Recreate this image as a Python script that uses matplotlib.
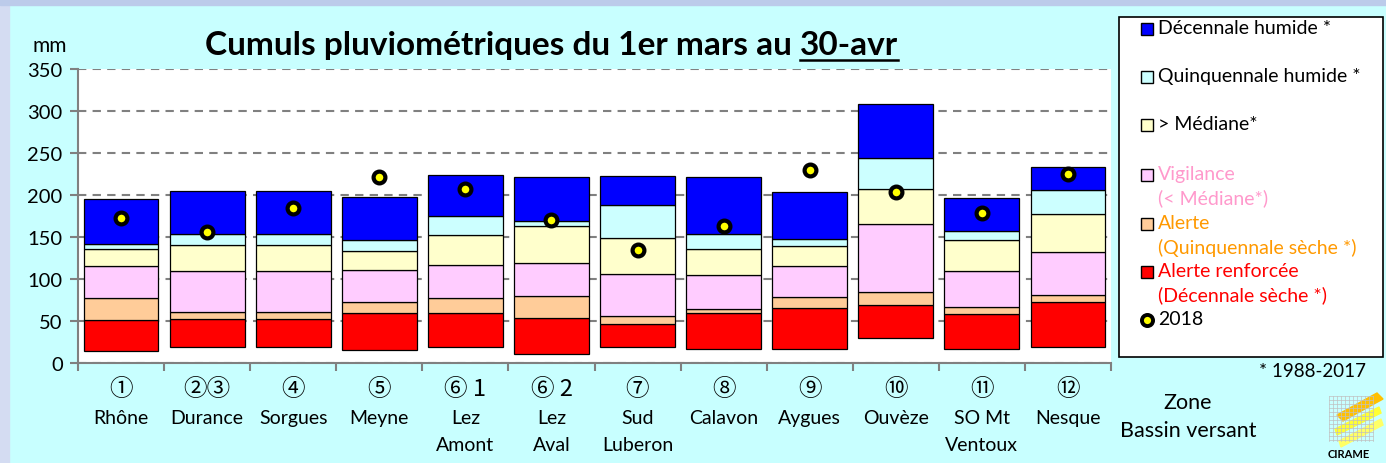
import numpy as np
import matplotlib
matplotlib.use("Agg")
import matplotlib.pyplot as plt
from matplotlib.patches import Rectangle
from matplotlib.lines import Line2D

# ---- données (mm) ----
circ = ["①", "②③", "④", "⑤", "⑥", "⑥", "⑦", "⑧", "⑨", "⑩", "⑪", "⑫"]
circ_suffix = ["", "", "", "", " 1", " 2", "", "", "", "", "", ""]
zones = ["Rhône", "Durance", "Sorgues", "Meyne", "Lez\nAmont", "Lez\nAval",
         "Sud\nLuberon", "Calavon", "Aygues", "Ouvèze", "SO Mt\nVentoux", "Nesque"]
mini      = [14, 19, 19, 15, 19, 11, 19, 17, 17, 30, 17, 19]
dec_seche = [51, 52, 52, 60, 60, 54, 46, 59, 66, 69, 58, 73]
quin_seche = [77, 61, 61, 73, 77, 80, 56, 64, 78, 84, 67, 81]
mediane   = [115, 109, 109, 111, 117, 119, 106, 105, 115, 165, 110, 132]
quin_hum  = [136, 140, 140, 133, 152, 163, 149, 136, 139, 207, 147, 177]
dec_hum   = [142, 153, 153, 146, 175, 169, 188, 154, 148, 244, 157, 206]
maxi      = [195, 205, 205, 198, 224, 222, 223, 221, 204, 308, 196, 233]
an2018    = [173, 156, 184, 221, 207, 170, 134, 163, 230, 203, 179, 225]

levels = [mini, dec_seche, quin_seche, mediane, quin_hum, dec_hum, maxi]
colors = ["#FF0000", "#FFCC99", "#FFCCFF", "#FFFFCC", "#CCFFFF", "#0000FF"]
leg_labels = ["Décennale humide *", "Quinquennale humide *", "> Médiane*",
              "Vigilance\n(< Médiane*)", "Alerte\n(Quinquennale sèche *)",
              "Alerte renforcée\n(Décennale sèche *)", "2018"]
leg_colors = ["black", "black", "black", "#FF99CC", "#FF9900", "#FF0000", "black"]

W, H = 1386, 464
BG = "#C8FFFF"
plt.rcParams["font.family"] = ["Lato", "DejaVu Sans"]


def px(x, y):
    return x / W, 1 - y / H


fig = plt.figure(figsize=(W / 100, H / 100), dpi=100, facecolor=BG)
fig.patches.append(Rectangle((0, 0), 9 / W, 1, transform=fig.transFigure,
                             color="#D4DCF2", zorder=0))
fig.patches.append(Rectangle((0, 1 - 6 / H), 1, 6 / H, transform=fig.transFigure,
                             color="#BCCBEA", zorder=0))

ax = fig.add_axes([78 / W, 1 - 364 / H, (1111 - 78) / W, (364 - 70) / H])
ax.set_facecolor("white")
x = np.arange(len(zones))
for i in range(6):
    lo = np.array(levels[i]); hi = np.array(levels[i + 1])
    ax.bar(x, hi - lo, bottom=lo, width=0.87, color=colors[i],
           edgecolor="black", lw=0.9, zorder=3)
ax.plot(x, an2018, "o", ms=8.5, mfc="#FFFF00", mec="black", mew=3, zorder=5)

ax.set_xlim(-0.5, len(zones) - 0.5)
ax.set_ylim(0, 350)
ax.set_yticks(range(0, 351, 50))
ax.grid(axis="y", color="#808080", ls=(0, (4, 3)), lw=1.5, zorder=0)
ax.set_xticks(x)
ax.set_xticklabels(zones, fontsize=14, linespacing=1.75, va="top")
ax.set_xticks(np.arange(-0.5, len(zones)), minor=True)
ax.tick_params(axis="x", which="major", length=0, pad=33)
ax.tick_params(axis="x", which="minor", length=6, color="#808080", width=1.5)
ax.tick_params(axis="y", length=6, color="#808080", width=1.5, labelsize=14.5, pad=5)
for s in ["top", "right"]:
    ax.spines[s].set_visible(False)
for s in ["left", "bottom"]:
    ax.spines[s].set_color("#808080")
    ax.spines[s].set_linewidth(1.5)

# numéros cerclés des zones
for xi, c, sfx in zip(x, circ, circ_suffix):
    ax.text(xi, -(390 - 364) / 294, c + sfx, transform=ax.get_xaxis_transform(),
            ha="center", va="center", fontsize=17,
            family=["Noto Sans CJK JP", "DejaVu Sans"])

fig.text(*px(33, 52), "mm", fontsize=15, va="baseline")

# titre avec "30-avr" souligné
t1 = fig.text(*px(205, 55), "Cumuls pluviométriques du 1er mars au ",
              fontsize=24, fontweight="bold", va="baseline")
r = fig.canvas.get_renderer()
bb1 = t1.get_window_extent(renderer=r)
t2 = fig.text(bb1.x1 / W, 1 - 55 / H, "30-avr", fontsize=24,
              fontweight="bold", va="baseline")
bb2 = t2.get_window_extent(renderer=r)
fig.lines.append(Line2D([bb2.x0 / W, bb2.x1 / W], [1 - 61 / H, 1 - 61 / H],
                        transform=fig.transFigure, color="black", lw=1.8))

# légende
fig.patches.append(Rectangle(px(1119, 358), (1383 - 1119) / W, (358 - 18) / H,
                             transform=fig.transFigure, facecolor="white",
                             edgecolor="black", lw=1.2, zorder=1))
leg_y = [30, 78, 126, 176, 225, 273, 321]
sw_cols = colors[::-1]
for k, (lab, col, yy) in enumerate(zip(leg_labels, leg_colors, leg_y)):
    if k < 6:
        fig.patches.append(Rectangle(px(1141, yy + 6), 12 / W, 12 / H,
                                     transform=fig.transFigure, facecolor=sw_cols[k],
                                     edgecolor="black", lw=1, zorder=2))
    else:
        fig.lines.append(Line2D([1147 / W], [1 - yy / H], transform=fig.transFigure,
                                marker="o", ms=8, mfc="#FFFF00", mec="black", mew=2.8,
                                zorder=3))
    fig.text(*px(1158, yy - 10), lab, fontsize=14, color=col, va="top",
             linespacing=1.45, zorder=3)

fig.text(*px(1259, 372), "* 1988-2017", fontsize=13.5, va="center")
fig.text(*px(1188, 403), "Zone", fontsize=15.5, va="center", ha="center")
fig.text(*px(1188, 431), "Bassin versant", fontsize=15.5, va="center", ha="center")

# logo simplifié
lg = fig.add_axes([1325 / W, 1 - 464 / H, 61 / W, 82 / H])
lg.set_xlim(0, 61); lg.set_ylim(82, 0); lg.axis("off")
for gx in np.arange(4, 50, 4):
    lg.plot([gx, gx], [15, 60], color="#C0C0C0", lw=0.5)
for gy in np.arange(15, 61, 4):
    lg.plot([4, 48], [gy, gy], color="#C0C0C0", lw=0.5)
lg.fill([12, 52, 58, 18], [34, 12, 18, 40], color="#FFC000")
lg.fill([10, 54, 56, 12], [48, 26, 32, 54], color="#FFFF33")
lg.fill([14, 56, 58, 16], [60, 38, 44, 66], color="#FFFF66")
lg.text(3, 76, "CIRAME", fontsize=8, fontweight="bold", va="baseline")

fig.savefig("out.png", dpi=100, facecolor=BG)
